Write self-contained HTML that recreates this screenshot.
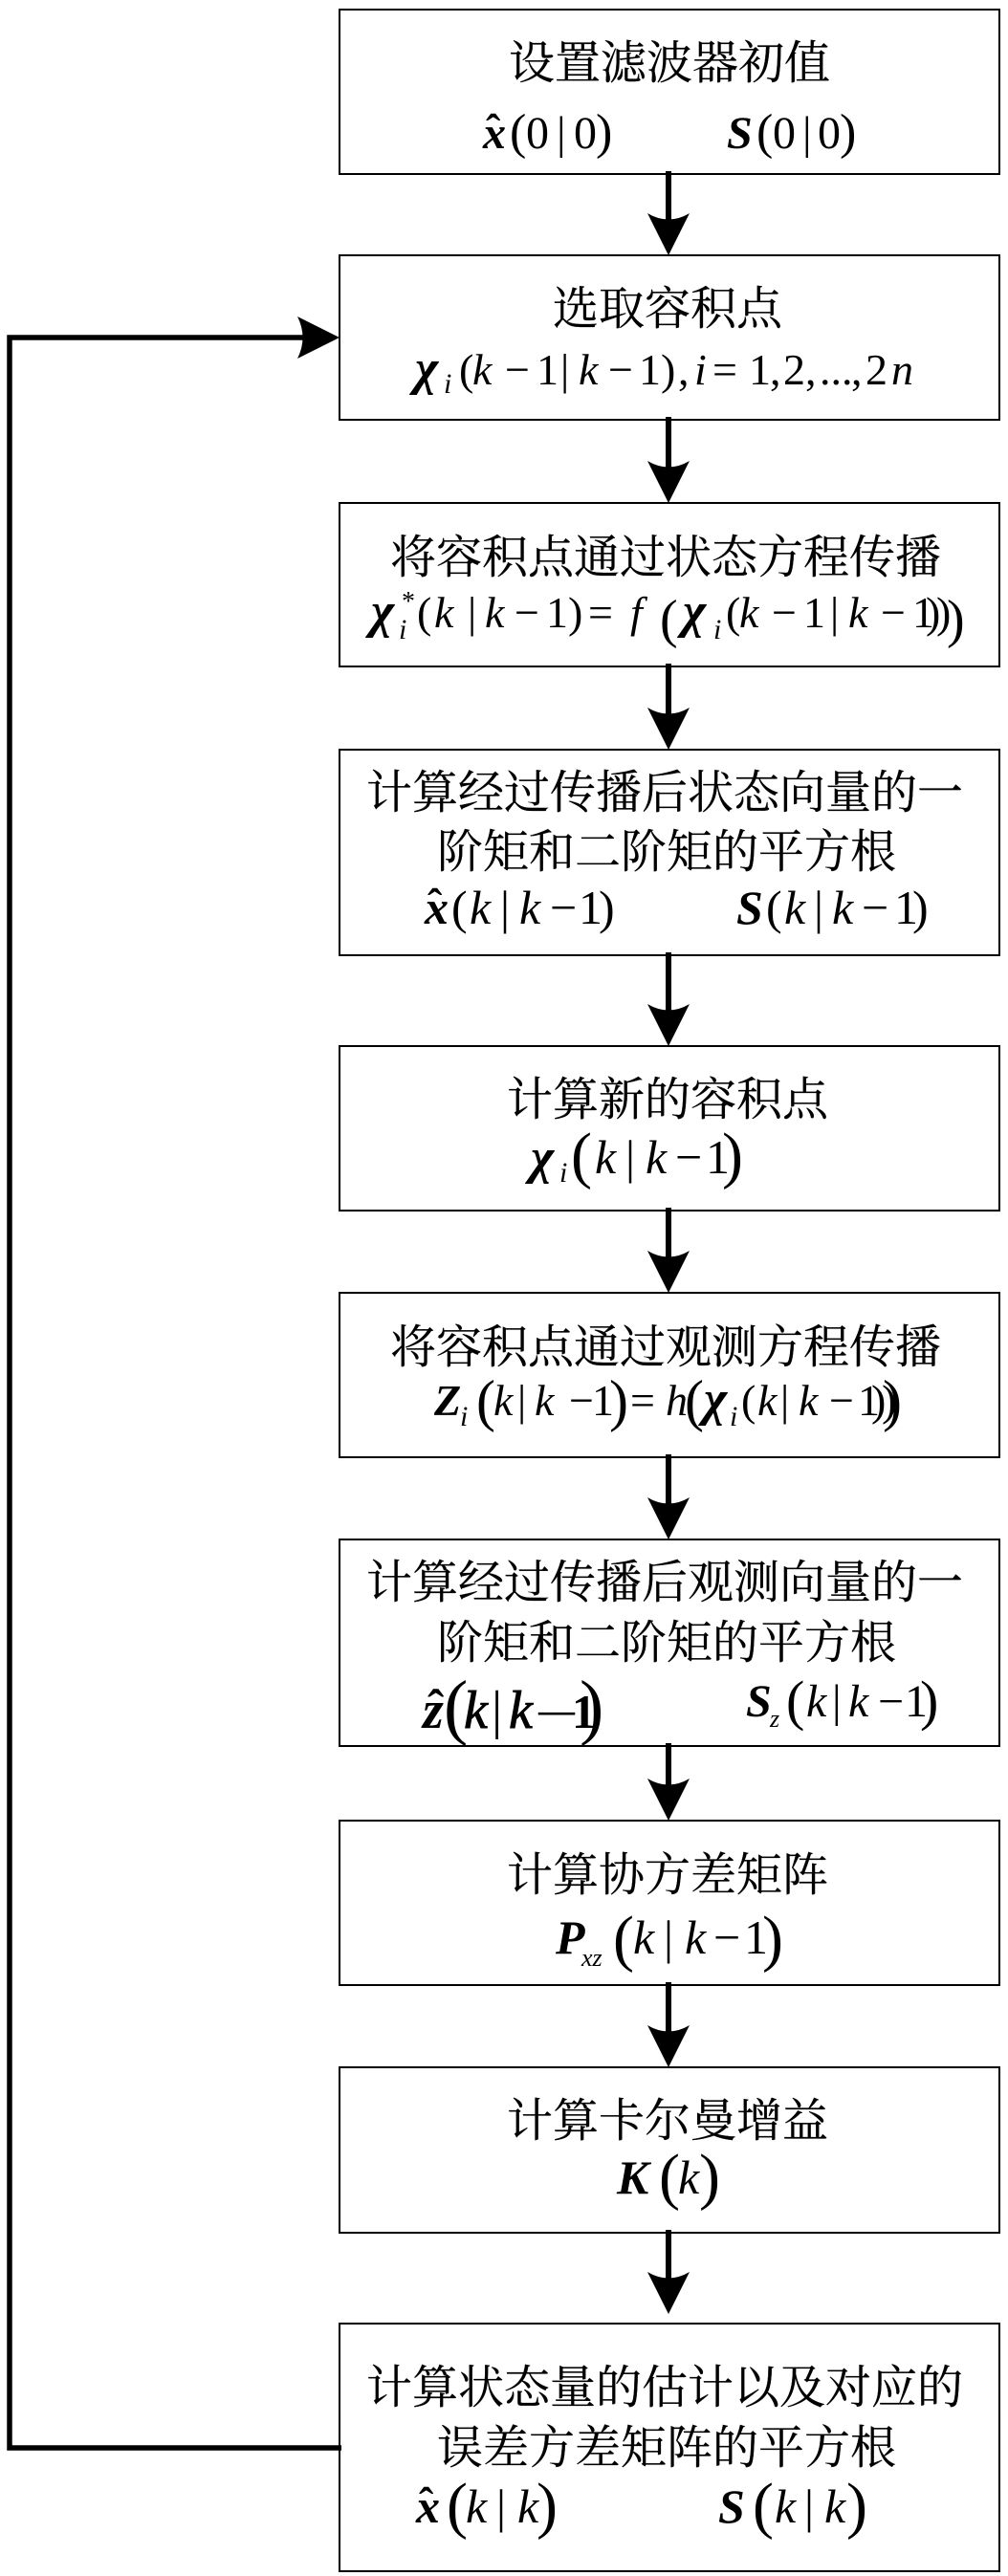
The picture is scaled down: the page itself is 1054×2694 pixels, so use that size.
<!DOCTYPE html>
<html lang="zh">
<head>
<meta charset="utf-8">
<title>流程图</title>
<style>
html,body{margin:0;padding:0;background:#fff}
svg{display:block}
.c{font-family:"Liberation Serif","Noto Serif CJK SC",serif;font-size:48px;fill:#000;stroke:#000;stroke-width:.25}
.m{font-family:"Liberation Serif",serif;font-size:48px;fill:#000}
.i{font-style:italic}
.bi{font-style:italic;font-weight:bold}
.x{font-size:52px;font-style:italic;font-weight:bold}
.s{font-size:30px;font-style:italic}
.p{font-size:66px;font-weight:normal;font-style:normal}
.h{font-size:46px;font-weight:bold}
.t{stroke:#000;stroke-width:.9}
.box{fill:#fff;stroke:#000;stroke-width:2}
.w{stroke:#000;stroke-width:6;fill:none}
</style>
</head>
<body>
<svg width="1054" height="2694" viewBox="0 0 1054 2694" xmlns="http://www.w3.org/2000/svg">
<rect width="1054" height="2694" fill="#fff"/>

<!-- boxes -->
<rect class="box" x="355" y="10" width="690" height="172"/>
<rect class="box" x="355" y="267" width="690" height="172"/>
<rect class="box" x="355" y="526" width="690" height="171"/>
<rect class="box" x="355" y="784" width="690" height="215"/>
<rect class="box" x="355" y="1094" width="690" height="172"/>
<rect class="box" x="355" y="1352" width="690" height="172"/>
<rect class="box" x="355" y="1610" width="690" height="216"/>
<rect class="box" x="355" y="1904" width="690" height="172"/>
<rect class="box" x="355" y="2162" width="690" height="173"/>
<rect class="box" x="355" y="2430" width="690" height="259"/>

<!-- arrows -->
<g fill="#000">
<path class="w" d="M699 179V240M699 436V497M699 694V755M699 996V1065M699 1263V1323M699 1521V1581M699 1823V1875M699 2073V2133M699 2332V2391"/>
<path d="M677 223Q699 236 721 223L699 267Z"/>
<path d="M677 482Q699 495 721 482L699 526Z"/>
<path d="M677 740Q699 753 721 740L699 784Z"/>
<path d="M677 1050Q699 1063 721 1050L699 1094Z"/>
<path d="M677 1308Q699 1321 721 1308L699 1352Z"/>
<path d="M677 1566Q699 1579 721 1566L699 1610Z"/>
<path d="M677 1860Q699 1873 721 1860L699 1904Z"/>
<path d="M677 2118Q699 2131 721 2118L699 2162Z"/>
<path d="M677 2376Q699 2389 721 2376L699 2420Z"/>
<path d="M311 331Q322 353 311 375L355 353Z"/>
</g>
<path d="M357 2560H10V353H320" fill="none" stroke="#000" stroke-width="5.5"/>

<!-- labels -->
<g class="c">
<text x="532" y="82">设置滤波器初值</text>
<text x="578" y="339">选取容积点</text>
<text x="408" y="599">将容积点通过状态方程传播</text>
<text x="383" y="845">计算经过传播后状态向量的一</text>
<text x="457" y="907">阶矩和二阶矩的平方根</text>
<text x="530" y="1166">计算新的容积点</text>
<text x="408" y="1425">将容积点通过观测方程传播</text>
<text x="383" y="1671">计算经过传播后观测向量的一</text>
<text x="457" y="1734">阶矩和二阶矩的平方根</text>
<text x="530" y="1977">计算协方差矩阵</text>
<text x="530" y="2234">计算卡尔曼增益</text>
<text x="383" y="2513">计算状态量的估计以及对应的</text>
<text x="457" y="2576">误差方差矩阵的平方根</text>
</g>

<!-- box 1 math -->
<text class="m" y="155"><tspan class="bi" x="505">x</tspan><tspan x="533" style="font-size:52px">(</tspan><tspan x="550">0</tspan><tspan x="582">|</tspan><tspan x="600">0</tspan><tspan x="623" style="font-size:52px">)</tspan><tspan class="bi" x="760">S</tspan><tspan x="791" style="font-size:52px">(</tspan><tspan x="808">0</tspan><tspan x="839">|</tspan><tspan x="855">0</tspan><tspan x="878" style="font-size:52px">)</tspan></text>
<text class="m h" x="508" y="151">ˆ</text>

<!-- box 2 math -->
<text class="m" y="402" style="font-size:46px"><tspan class="x" x="434">χ</tspan><tspan x="480">(</tspan><tspan class="i" x="494">k</tspan><tspan x="528">−</tspan><tspan x="561">1</tspan><tspan x="586">|</tspan><tspan class="i" x="605">k</tspan><tspan x="636">−</tspan><tspan x="668">1</tspan><tspan x="691">)</tspan><tspan x="709">,</tspan><tspan class="i" x="726">i</tspan><tspan x="745">=</tspan><tspan x="783">1</tspan><tspan x="805">,</tspan><tspan x="819">2</tspan><tspan x="842">,</tspan><tspan x="857">...</tspan><tspan x="890">,</tspan><tspan x="905">2</tspan><tspan class="i" x="932">n</tspan></text>
<text class="m s" x="464" y="411">i</text>

<!-- box 3 math -->
<text class="m" y="656" style="font-size:46px"><tspan class="x" x="388">χ</tspan><tspan x="436">(</tspan><tspan class="i" x="454">k</tspan><tspan x="489">|</tspan><tspan class="i" x="507">k</tspan><tspan x="538">−</tspan><tspan x="571">1</tspan><tspan x="594">)</tspan><tspan x="615">=</tspan><tspan class="i" x="659">f</tspan><tspan class="x" x="714">χ</tspan><tspan x="759">(</tspan><tspan class="i" x="773">k</tspan><tspan x="807">−</tspan><tspan x="840">1</tspan><tspan x="868">|</tspan><tspan class="i" x="887">k</tspan><tspan x="921">−</tspan><tspan x="954">1</tspan><tspan x="968">)</tspan><tspan x="979">)</tspan></text>
<text class="m p" x="690" y="666" style="font-size:56px">(</text>
<text class="m p" x="990" y="666" style="font-size:56px">)</text>
<text class="m s" x="417" y="668">i</text>
<text class="m s" x="746" y="668">i</text>
<text class="m" x="420" y="638" style="font-size:28px">*</text>

<!-- box 4 math -->
<text class="m" y="966" style="font-size:50px"><tspan class="bi" x="444">x</tspan><tspan x="472">(</tspan><tspan class="i" x="491">k</tspan><tspan x="523">|</tspan><tspan class="i" x="543">k</tspan><tspan x="575">−</tspan><tspan x="605">1</tspan><tspan x="626">)</tspan><tspan class="bi" x="770">S</tspan><tspan x="801">(</tspan><tspan class="i" x="820">k</tspan><tspan x="851">|</tspan><tspan class="i" x="870">k</tspan><tspan x="901">−</tspan><tspan x="935">1</tspan><tspan x="954">)</tspan></text>
<text class="m h" x="447" y="961">ˆ</text>

<!-- box 5 math -->
<text class="m" y="1227" style="font-size:50px"><tspan class="x" x="555">χ</tspan><tspan class="i" x="622">k</tspan><tspan x="654">|</tspan><tspan class="i" x="675">k</tspan><tspan x="706">−</tspan><tspan x="738">1</tspan></text>
<text class="m s" x="585" y="1236">i</text>
<text class="m p" x="597" y="1230">(</text>
<text class="m p" x="755" y="1230">)</text>

<!-- box 6 math -->
<text class="m" y="1480" style="font-size:46px"><tspan class="bi" x="454">Z</tspan><tspan class="i" x="516">k</tspan><tspan x="541">|</tspan><tspan class="i" x="559">k</tspan><tspan x="595">−</tspan><tspan x="619">1</tspan><tspan x="659">=</tspan><tspan class="i" x="696">h</tspan><tspan class="x" x="736">χ</tspan><tspan x="775">(</tspan><tspan class="i" x="792">k</tspan><tspan x="816">|</tspan><tspan class="i" x="835">k</tspan><tspan x="867">−</tspan><tspan x="897">1</tspan><tspan x="911">)</tspan><tspan x="922">)</tspan></text>
<text class="m s" x="481" y="1491">i</text>
<text class="m s" x="763" y="1491">i</text>
<text class="m p" x="498" y="1485" style="font-size:60px">(</text>
<text class="m p" x="637" y="1485" style="font-size:60px">)</text>
<text class="m p" x="716" y="1485" style="font-size:60px">(</text>
<text class="m p" x="923" y="1485" style="font-size:60px">)</text>

<!-- box 7 math -->
<text class="m" y="1807" style="font-size:56px"><tspan class="bi" x="442">z</tspan><tspan class="i t" x="485">k</tspan><tspan x="514">|</tspan><tspan class="i t" x="532">k</tspan><tspan x="598" style="font-weight:bold;font-size:50px">1</tspan></text>
<text class="m" x="563" y="1801" style="font-size:38px;font-weight:bold">—</text>
<text class="m p" x="464" y="1810" style="font-size:76px">(</text>
<text class="m p" x="606" y="1810" style="font-size:76px">)</text>
<text class="m h" x="447" y="1803" style="font-size:52px">ˆ</text>
<text class="m" y="1795" style="font-size:48px"><tspan class="bi" x="780">S</tspan><tspan class="i" x="843">k</tspan><tspan x="870">|</tspan><tspan class="i" x="887">k</tspan><tspan x="918">−</tspan><tspan x="946">1</tspan></text>
<text class="m s" x="805" y="1806" style="font-size:26px">z</text>
<text class="m p" x="822" y="1798" style="font-size:58px">(</text>
<text class="m p" x="962" y="1798" style="font-size:58px">)</text>

<!-- box 8 math -->
<text class="m" y="2043" style="font-size:50px"><tspan class="bi" x="581">P</tspan><tspan class="i" x="662">k</tspan><tspan x="694">|</tspan><tspan class="i" x="716">k</tspan><tspan x="746">−</tspan><tspan x="778">1</tspan></text>
<text class="m s" x="608" y="2056" style="font-size:26px">xz</text>
<text class="m p" x="641" y="2049">(</text>
<text class="m p" x="797" y="2049">)</text>

<!-- box 9 math -->
<text class="m" y="2294" style="font-size:50px"><tspan class="bi" x="645">K</tspan><tspan class="i" x="709">k</tspan></text>
<text class="m p" x="689" y="2298">(</text>
<text class="m p" x="731" y="2298">)</text>

<!-- box 10 math -->
<text class="m" y="2638" style="font-size:50px"><tspan class="bi" x="435">x</tspan><tspan class="i" x="487">k</tspan><tspan x="519">|</tspan><tspan class="i" x="541">k</tspan><tspan class="bi" x="751">S</tspan><tspan class="i" x="810">k</tspan><tspan x="841">|</tspan><tspan class="i" x="862">k</tspan></text>
<text class="m h" x="438" y="2633" style="font-size:46px">ˆ</text>
<text class="m p" x="467" y="2642">(</text>
<text class="m p" x="561" y="2642">)</text>
<text class="m p" x="787" y="2642">(</text>
<text class="m p" x="885" y="2642">)</text>
</svg>
</body>
</html>
